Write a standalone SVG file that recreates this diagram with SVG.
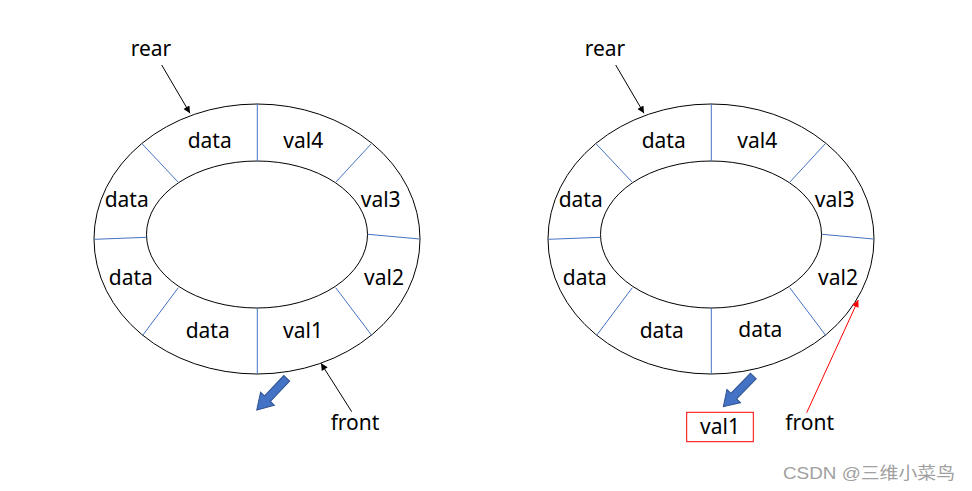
<svg xmlns="http://www.w3.org/2000/svg" width="972" height="491" viewBox="0 0 972 491">
<style>
.ring{fill:none;stroke:#000;stroke-width:1}
.div{stroke:#4472C4;stroke-width:1}
.t{font-family:"Noto Sans","Liberation Sans",sans-serif;font-size:21px;fill:#000;text-anchor:middle}
.blk{stroke:#000;stroke-width:1;fill:none}
.red{stroke:#FF0000;stroke-width:1;fill:none}
.blue{fill:#4472C4;stroke:#2F528F;stroke-width:1}
.wm{font-family:"Liberation Sans","Noto Sans CJK SC",sans-serif;font-size:17px;fill:#a0a0a0}
</style>
<defs>
<marker id="ah" viewBox="0 0 10 10" refX="10" refY="5" markerWidth="9" markerHeight="7" markerUnits="userSpaceOnUse" orient="auto"><path d="M0,0 L10,5 L0,10 z" fill="#000"/></marker>
<marker id="ahr" viewBox="0 0 10 10" refX="10" refY="5" markerWidth="9" markerHeight="7" markerUnits="userSpaceOnUse" orient="auto"><path d="M0,0 L10,5 L0,10 z" fill="#FF0000"/></marker>
<g id="ringshape">
<ellipse class="ring" cx="257" cy="239" rx="163" ry="135"/>
<ellipse class="ring" cx="257" cy="234.5" rx="110.5" ry="73.5"/>
<line class="div" x1="257.3" y1="104" x2="257.3" y2="161"/>
<line class="div" x1="142.3" y1="144" x2="178.3" y2="182.3"/>
<line class="div" x1="371" y1="144" x2="335.7" y2="182.3"/>
<line class="div" x1="94.5" y1="239.3" x2="146.5" y2="237.3"/>
<line class="div" x1="368" y1="234.3" x2="419.5" y2="239"/>
<line class="div" x1="178.3" y1="287.7" x2="142.7" y2="335.3"/>
<line class="div" x1="335.7" y1="287.7" x2="371.7" y2="335.3"/>
<line class="div" x1="257.3" y1="308" x2="257.3" y2="374"/>
</g>
</defs>
<g id="queue-left">
<use href="#ringshape"/>
<text class="t" x="209.7" y="148">data</text>
<text class="t" x="303.3" y="148">val4</text>
<text class="t" x="126.7" y="206.7">data</text>
<text class="t" x="380.7" y="206.7">val3</text>
<text class="t" x="130.8" y="285">data</text>
<text class="t" x="384" y="285">val2</text>
<text class="t" x="207.7" y="338">data</text>
<text class="t" x="303" y="338">val1</text>
</g>
<g id="queue-right">
<use href="#ringshape" transform="translate(454,0)"/>
<text class="t" x="663.7" y="148">data</text>
<text class="t" x="757.3" y="148">val4</text>
<text class="t" x="580.7" y="206.7">data</text>
<text class="t" x="834.7" y="206.7">val3</text>
<text class="t" x="584.8" y="285">data</text>
<text class="t" x="838" y="285">val2</text>
<text class="t" x="661.7" y="338">data</text>
<text class="t" x="760.3" y="337">data</text>
</g>
<g id="labels">
<text class="t" x="151" y="56">rear</text>
<text class="t" x="355" y="430">front</text>
<text class="t" x="605" y="56">rear</text>
<text class="t" x="809.7" y="430">front</text>
</g>
<g id="dequeued">
<rect x="686.7" y="412.3" width="66.6" height="29.4" fill="none" stroke="#FF0000" stroke-width="1"/>
<text class="t" x="720" y="433.5">val1</text>
</g>
<g id="connectors">
<line class="blk" x1="161.7" y1="65" x2="190" y2="113.3" marker-end="url(#ah)"/>
<line class="blk" x1="351.7" y1="411.7" x2="321" y2="363.3" marker-end="url(#ah)"/>
<line class="blk" x1="615.7" y1="65" x2="644" y2="113.3" marker-end="url(#ah)"/>
<line class="red" x1="806.7" y1="412.7" x2="858.3" y2="300" marker-end="url(#ahr)"/>
<polygon class="blue" transform="translate(286.7,378.3) rotate(133.4)" points="0,-4 28,-4 28,-9.5 43.6,0 28,9.5 28,4 0,4"/>
<polygon class="blue" transform="translate(753.3,376) rotate(134.3)" points="0,-4 28,-4 28,-9.5 42.9,0 28,9.5 28,4 0,4"/>
</g>
<text class="wm" x="783" y="479" textLength="172" lengthAdjust="spacingAndGlyphs">CSDN @三维小菜鸟</text>
</svg>
